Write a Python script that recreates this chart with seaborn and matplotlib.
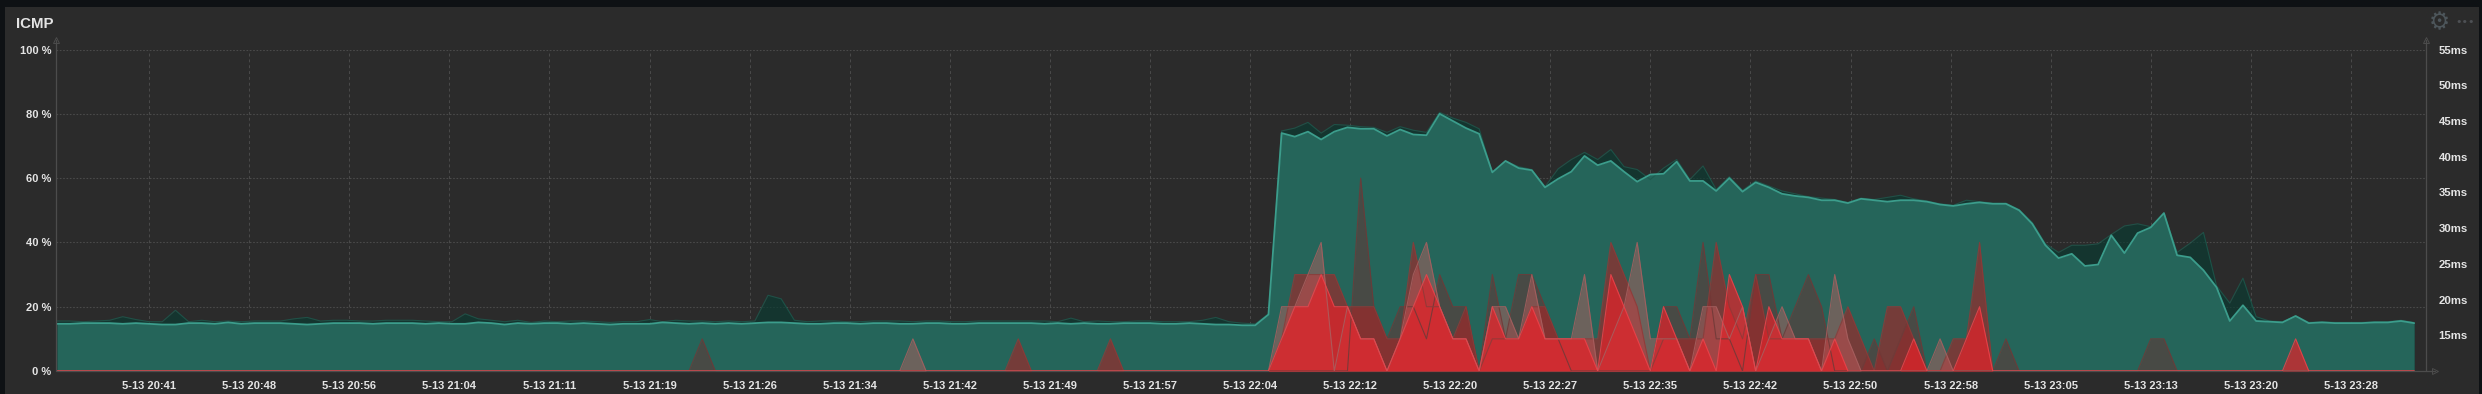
import numpy as np
import pandas as pd
import seaborn as sns
import matplotlib.pyplot as plt
from matplotlib.patches import Rectangle

tick_labels = ["5-13 20:41", "5-13 20:48", "5-13 20:56", "5-13 21:04", "5-13 21:11", "5-13 21:19",
               "5-13 21:26", "5-13 21:34", "5-13 21:42", "5-13 21:49", "5-13 21:57", "5-13 22:04",
               "5-13 22:12", "5-13 22:20", "5-13 22:27", "5-13 22:35", "5-13 22:42", "5-13 22:50",
               "5-13 22:58", "5-13 23:05", "5-13 23:13", "5-13 23:20", "5-13 23:28"]
loss_ticks = [0, 20, 40, 60, 80, 100]
ms_ticks = [15, 20, 25, 30, 35, 40, 45, 50, 55]

# latency, ms (right axis)
avg_ms = [16.6, 16.6, 16.7, 16.7, 16.7, 16.6, 16.7, 16.6, 16.5, 16.5,
          16.7, 16.7, 16.6, 16.8, 16.6, 16.7, 16.7, 16.7, 16.6, 16.5,
          16.6, 16.7, 16.7, 16.7, 16.6, 16.7, 16.7, 16.7, 16.6, 16.7,
          16.6, 16.6, 16.8, 16.7, 16.5, 16.7, 16.6, 16.7, 16.7, 16.6,
          16.7, 16.6, 16.5, 16.6, 16.6, 16.6, 16.8, 16.7, 16.6, 16.7,
          16.6, 16.7, 16.6, 16.7, 16.8, 16.8, 16.7, 16.6, 16.6, 16.7,
          16.7, 16.6, 16.7, 16.7, 16.6, 16.6, 16.7, 16.7, 16.6, 16.6,
          16.7, 16.7, 16.7, 16.7, 16.7, 16.6, 16.7, 16.6, 16.7, 16.6,
          16.6, 16.7, 16.7, 16.7, 16.6, 16.6, 16.7, 16.6, 16.5, 16.5,
          16.4, 16.4, 17.9, 43.3, 42.8, 43.5, 42.4, 43.5, 44.1, 43.9,
          43.9, 42.9, 43.8, 43.1, 43.0, 46.0, 45.0, 44.0, 43.2, 37.8,
          39.4, 38.4, 38.1, 35.7, 36.9, 37.9, 40.1, 38.8, 39.4, 37.9,
          36.5, 37.5, 37.6, 39.3, 36.6, 36.6, 35.2, 37.0, 35.1, 36.4,
          35.7, 34.8, 34.5, 34.3, 33.9, 33.9, 33.5, 34.1, 33.9, 33.7,
          33.9, 33.9, 33.7, 33.3, 33.1, 33.4, 33.6, 33.4, 33.4, 32.5,
          30.6, 27.6, 25.8, 26.4, 24.7, 24.9, 29.0, 26.5, 29.3, 30.1,
          32.1, 26.2, 25.9, 24.1, 21.7, 17.0, 19.2, 17.0, 16.9, 16.8,
          17.7, 16.7, 16.8, 16.7, 16.7, 16.7, 16.8, 16.8, 17.0, 16.7]
max_ms = [17.0, 17.0, 16.9, 17.0, 17.1, 17.6, 17.2, 16.9, 16.9, 18.5,
          16.9, 17.1, 16.9, 17.0, 16.9, 17.0, 17.0, 17.0, 17.3, 17.5,
          17.0, 17.1, 17.1, 17.0, 17.0, 17.1, 17.1, 17.1, 17.0, 16.9,
          16.9, 18.0, 17.3, 17.1, 16.9, 17.1, 16.8, 17.0, 16.9, 17.0,
          17.0, 16.9, 16.8, 16.9, 16.9, 17.2, 16.9, 17.1, 17.0, 17.0,
          16.9, 17.0, 16.9, 17.0, 20.6, 20.1, 17.1, 16.9, 17.0, 17.0,
          16.9, 16.9, 17.0, 17.0, 17.0, 16.9, 17.0, 17.0, 16.9, 16.9,
          17.0, 17.0, 17.0, 17.0, 17.0, 17.0, 16.9, 17.4, 16.9, 17.0,
          16.9, 16.9, 17.0, 17.0, 16.9, 16.9, 16.9, 17.1, 17.5, 16.9,
          16.7, 16.6, 18.0, 43.6, 44.0, 44.8, 43.3, 44.5, 44.4, 44.2,
          44.1, 43.4, 44.2, 43.7, 43.4, 46.2, 45.4, 44.8, 43.9, 37.8,
          39.4, 38.6, 38.2, 35.8, 38.3, 39.6, 40.6, 39.6, 41.0, 38.6,
          38.2, 36.8, 38.4, 39.6, 36.8, 38.7, 35.4, 37.2, 35.3, 36.6,
          35.9, 35.2, 34.8, 34.4, 34.2, 34.0, 33.6, 34.2, 34.0, 34.3,
          34.6, 34.1, 33.8, 33.4, 33.2, 33.9, 33.7, 33.5, 33.5, 32.6,
          30.8, 27.8, 26.6, 27.6, 27.6, 27.8, 29.1, 30.3, 30.6, 30.2,
          32.1, 26.6, 27.9, 29.4, 21.9, 19.5, 23.0, 17.6, 17.0, 16.9,
          17.7, 16.8, 16.9, 16.8, 16.8, 16.8, 16.9, 16.9, 17.1, 16.8]

# packet loss, % (left axis), 180 points each
loss_red = ([0] * 93 +
            [10, 20, 20, 30, 20, 20, 10, 10, 0, 10, 20, 30, 20, 10, 10, 0, 20, 10, 10, 20,
             10, 10, 10, 10, 0, 30, 20, 10, 0, 20, 10, 0, 10, 0, 30, 20, 0, 20, 10, 10,
             10, 0, 10, 0, 0, 0, 0, 0, 10, 0, 0, 0, 10, 20] +
            [0] * 23 + [10] + [0] * 9)
loss_pale = ([0] * 65 + [10] + [0] * 27 +
             [20, 20, 30, 40, 0, 20, 10, 10, 0, 10, 30, 40, 20, 10, 10, 0, 20, 20, 10, 30,
              10, 10, 10, 30, 0, 10, 20, 40, 10, 10, 10, 0, 20, 20, 10, 20, 0, 10, 20, 10,
              10, 0, 30, 10, 0, 0, 0, 0, 0, 0, 10] +
             [0] * 36)
loss_brown = ([0] * 73 + [10] + [0] * 6 + [10] + [0] * 12 +
              [10, 30, 30, 30, 30, 20, 20, 20, 10, 10, 40, 20, 20, 10, 20, 0, 10, 10, 10, 20,
               20, 10, 10, 10, 10, 40, 30, 20, 0, 10, 10, 10, 10, 40, 20, 10, 30, 10, 10, 10,
               10, 10, 10, 20, 10, 0, 20, 20, 10, 0, 0, 10, 10, 40] +
              [0] * 33)
loss_dark = ([0] * 49 + [10] + [0] * 49 +
             [60, 20, 10, 20, 20, 10, 30, 20, 20, 0, 30, 10, 30, 30, 20, 10, 0, 0, 0, 0,
              0, 0, 0, 20, 20, 10, 40, 10, 10, 0, 30, 30, 10, 20, 30, 20, 0, 0, 0, 10, 0,
              10, 20, 0, 0, 0, 0, 0, 0, 10, 0, 0, 0, 0, 0, 0, 0, 0, 0, 0, 10, 10] +
             [0] * 19)

BG = "#2b2b2b"
OUTER = "#0e1114"
TXT = "#e4e4e4"
W, H = 2482, 394

sns.set_theme(style="dark", rc={"axes.facecolor": BG, "figure.facecolor": OUTER})
plt.rcParams["font.family"] = ["Liberation Sans", "DejaVu Sans"]

df = pd.DataFrame({"point": np.arange(len(avg_ms)), "avg": avg_ms, "max": max_ms,
                   "red": loss_red, "pale": loss_pale, "brown": loss_brown, "dark": loss_dark})

fig = plt.figure(figsize=(W / 100, H / 100), dpi=100)
fig.add_artist(Rectangle((5 / W, 0), (2479 - 5) / W, 1 - 7 / H, transform=fig.transFigure,
                         facecolor=BG, edgecolor="none", zorder=-5))
ax = fig.add_axes([55.6 / W, 1 - 371 / H, (2426 - 55.6) / W, (371 - 49.5) / H])
ax2 = ax.twinx()
# latency behind, loss in front
ax.set_zorder(2)
ax2.set_zorder(1)
ax.patch.set_visible(False)
ax2.set_facecolor(BG)

# latency areas on the ms axis
ax2.fill_between(df["point"], 10, df["max"], color="#0a3a31", alpha=0.68, lw=0)
sns.lineplot(data=df, x="point", y="max", ax=ax2, color="#1d5a4e", lw=0.8, alpha=0.8)
ax2.fill_between(df["point"], 10, df["avg"], color="#25655a", lw=0)
sns.lineplot(data=df, x="point", y="avg", ax=ax2, color="#3c9d8c", lw=1.3)

# loss areas on the % axis
loss_styles = [("dark", "#514440", 0.8, "#6e3a38"),
               ("brown", "#a82426", 0.62, "#8e3a38"),
               ("pale", "#c85f60", 0.44, "#a86060"),
               ("red", "#e2232a", 0.72, "#ec444c")]
for name, fill, alpha, edge in loss_styles:
    ax.fill_between(df["point"], 0, df[name], color=fill, alpha=alpha, lw=0)
    sns.lineplot(data=df, x="point", y=name, ax=ax, color=edge, lw=0.8, alpha=0.85)

ax.set_xlim(-0.1, 179.9)
ax2.set_xlim(-0.1, 179.9)
ax.set_ylim(0, 100)
ax2.set_ylim(10, 55)
ax.set_xlabel("")
ax.set_ylabel("")
ax2.set_xlabel("")
ax2.set_ylabel("")

tick_pos = 7 + 7.6 * np.arange(len(tick_labels))
ax.set_xticks(tick_pos)
ax.set_xticklabels(tick_labels)
ax.set_yticks(loss_ticks)
ax.set_yticklabels([f"{v} %" for v in loss_ticks])
ax2.set_yticks(ms_ticks)
ax2.set_yticklabels([f"{v}ms" for v in ms_ticks])
ax.tick_params(axis="x", length=0, pad=7.5, labelsize=8.0, labelcolor=TXT)
ax.tick_params(axis="y", length=0, pad=3, labelsize=8.0, labelcolor=TXT)
ax2.tick_params(axis="y", length=0, pad=9, labelsize=8.2, labelcolor=TXT)
for lab in ax.get_xticklabels() + ax.get_yticklabels() + ax2.get_yticklabels():
    lab.set_fontweight("bold")

# grid sits on the back axes so the areas cover it
ax.grid(False)
ax2.grid(False)
for p in tick_pos:
    ax2.axvline(p, color="#4a4a4a", lw=0.7, ls=(0, (3, 3)), zorder=0)
for v in loss_ticks[1:]:
    ax2.axhline(10 + v * 0.45, color="#4a4a4a", lw=0.8, ls=(0, (1.5, 1.5)), zorder=0)

for a in (ax, ax2):
    for s in a.spines.values():
        s.set_visible(False)
ax.plot([0, 0], [0, 1.028], transform=ax.transAxes, color="#4c4c4c", lw=0.9, clip_on=False)
ax.plot([1, 1], [0, 1.028], transform=ax.transAxes, color="#4c4c4c", lw=0.9, clip_on=False)
ax.plot([0, 1.004], [0, 0], transform=ax.transAxes, color="#4c4c4c", lw=0.9, clip_on=False, zorder=0)
ax.plot([0, 1], [1.028, 1.028], transform=ax.transAxes, marker="^", ls="none", ms=4,
        mfc="none", mec="#4c4c4c", mew=0.7, clip_on=False)
ax.plot([1.004], [0], transform=ax.transAxes, marker=">", ls="none", ms=4,
        mfc="none", mec="#4c4c4c", mew=0.7, clip_on=False)

fig.text(16 / W, 1 - 24 / H, "ICMP", color=TXT, fontsize=10.8, fontweight="bold", va="center")
fig.text(2439 / W, 1 - 22 / H, "\u2699", color="#4d565b", fontsize=17, ha="center", va="center",
         family="DejaVu Sans")
fig.text(2465 / W, 1 - 22 / H, "\u2022\u2022\u2022", color="#4d5054", fontsize=8, ha="center",
         va="center", family="DejaVu Sans")

fig.savefig("out.png", dpi=100, facecolor=fig.get_facecolor())
